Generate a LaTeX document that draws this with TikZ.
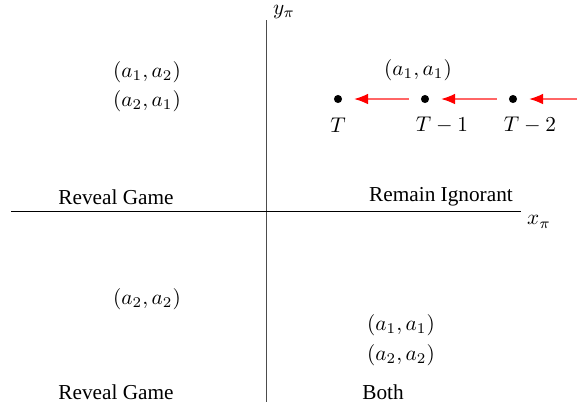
\documentclass[tikz,border=0pt]{standalone}
\usepackage{amsmath,amssymb}
\usepackage{fontspec}
\setmainfont{Liberation Serif}
\usetikzlibrary{arrows.meta}

\begin{document}
\begin{tikzpicture}[x=0.47pt,y=-0.47pt]
	\useasboundingbox (0,0) rectangle (577,413);
	\tikzset{
		stage/.style={circle, fill=black, inner sep=0pt, minimum size=3.8pt},
		back/.style={red!60, line width=0.6pt, -{Latex[color=red,length=6.5pt,width=5pt]}, shorten <=5.5pt, shorten >=5.5pt}
	}
	% axes
	\coordinate (ytop) at (266,20);
	\coordinate (ybot) at (266,402);
	\coordinate (xleft) at (11,211);
	\coordinate (xright) at (521,211);
	\draw[line width=0.4pt, black!70] (ytop) -- (ybot);
	\draw[line width=0.4pt] (xleft) -- (xright);
	\node (ylab) at (284,12) {$y_\pi$};
	\node (xlab) at (539,222) {$x_\pi$};
	% quadrant names
	\node (nw) at (116,197) {Reveal Game};
	\node (ne) at (441,197) {Remain Ignorant};
	\node (sw) at (116,392) {Reveal Game};
	\node (se) at (383,392) {Both};
	% equilibria
	\node (nwa) at (147,72) {$(a_1,a_2)$};
	\node (nwb) at (147,101) {$(a_2,a_1)$};
	\node (nea) at (418,70) {$(a_1,a_1)$};
	\node (swa) at (147,299) {$(a_2,a_2)$};
	\node (sea) at (401,325) {$(a_1,a_1)$};
	\node (seb) at (401,355) {$(a_2,a_2)$};
	% stages
	\foreach \n/\x/\lx/\lab in {1/338/338/T, 2/425/442/T-1, 3/513/530/T-2}
	{
		\node[stage] (d\n) at (\x,99) {};
		\node (t\n) at (\lx,125) {$\lab$};
	}
	\coordinate (in) at (577,99);
	\draw[back] (d2) -- (d1);
	\draw[back] (d3) -- (d2);
	\draw[back, shorten <=0pt] (in) -- (d3);
\end{tikzpicture}
\end{document}
